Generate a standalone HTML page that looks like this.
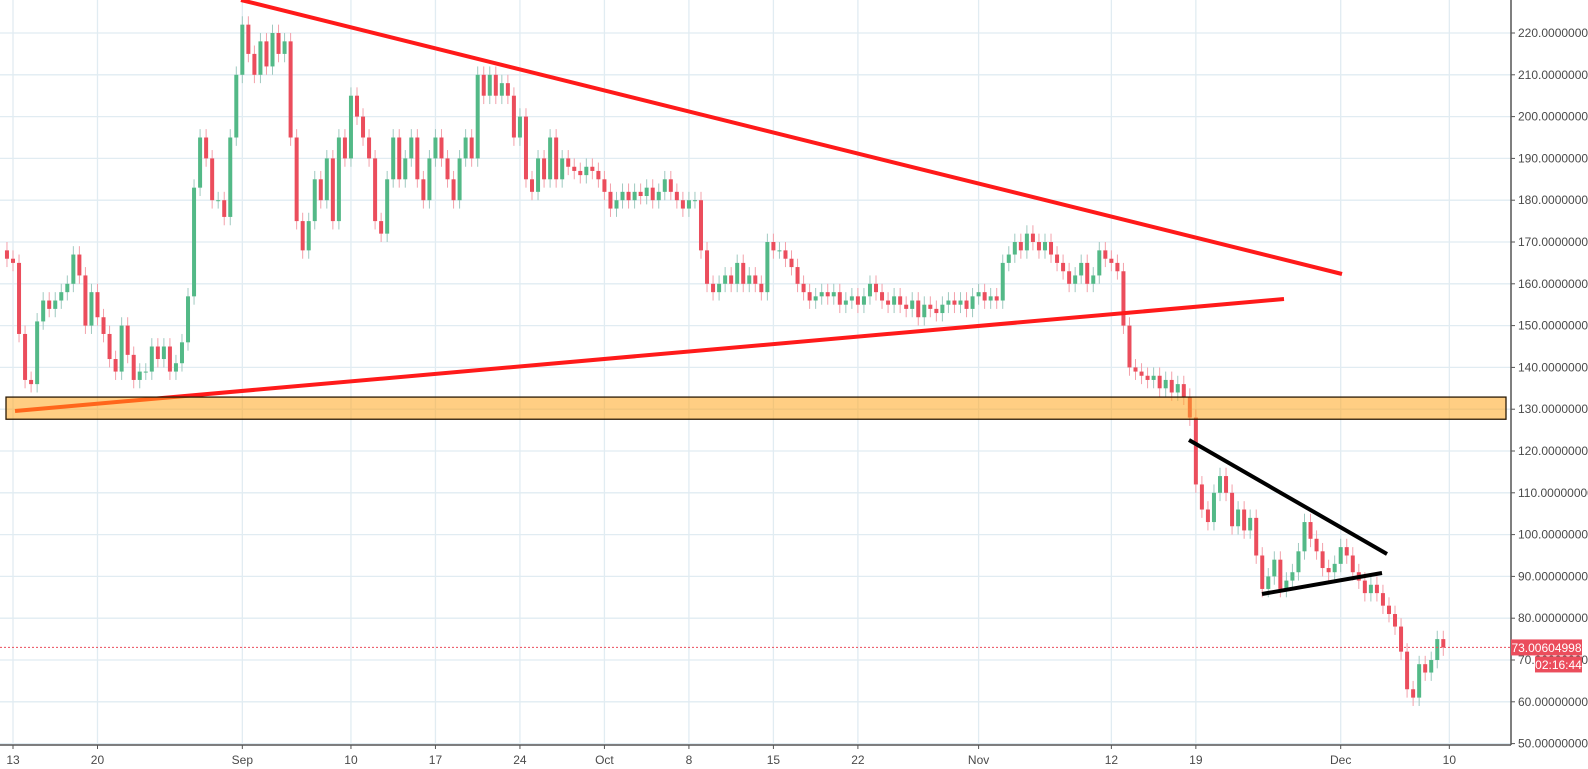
<!DOCTYPE html>
<html><head><meta charset="utf-8"><style>
html,body{margin:0;padding:0;background:#fff;width:1588px;height:769px;overflow:hidden}
svg{display:block;font-family:"Liberation Sans",sans-serif}
</style></head><body>
<svg id="chart" width="1588" height="769" xmlns="http://www.w3.org/2000/svg">
<g id="grid"></g>
<g id="candles"></g>
<g id="drawings"></g>
<g id="axes"></g>
</svg>
<script>
const days=[-1,-0.5,0,0.5,1,1.5,2,2.5,3,3.5,4,4.5,5,5.5,6,6.5,7,7.5,8,8.5,9,9.5,10,10.5,11,11.5,12,12.5,13,13.5,14,14.5,15,15.5,16,16.5,17,17.5,18,18.5,19,19.5,20,20.5,21,21.5,22,22.5,23,23.5,24,24.5,25,25.5,26,26.5,27,27.5,28,28.5,29,29.5,30,30.5,31,31.5,32,32.5,33,33.5,34,34.5,35,35.5,36,36.5,37,37.5,38,38.5,39,39.5,40,40.5,41,41.5,42,42.5,43,43.5,44,44.5,45,45.5,46,46.5,47,47.5,48,48.5,49,49.5,50,50.5,51,51.5,52,52.5,53,53.5,54,54.5,55,55.5,56,56.5,57,57.5,58,58.5,59,59.5,60,60.5,61,61.5,62,62.5,63,63.5,64,64.5,65,65.5,66,66.5,67,67.5,68,68.5,69,69.5,70,70.5,71,71.5,72,72.5,73,73.5,74,74.5,75,75.5,76,76.5,77,77.5,78,78.5,79,79.5,80,80.5,81,81.5,82,82.5,83,83.5,84,84.5,85,85.5,86,86.5,87,87.5,88,88.5,89,89.5,90,90.5,91,91.5,92,92.5,93,93.5,94,94.5,95,95.5,96,96.5,97,97.5,98,98.5,99,99.5,100,100.5,101,101.5,102,102.5,103,103.5,104,104.5,105,105.5,106,106.5,107,107.5,108,108.5,109,109.5,110,110.5,111,111.5,112,112.5,113,113.5,114,114.5,115,115.5,116,116.5,117,117.5,118,118.5,119];
const closes=[168,166,165,148,137,136,151,156,154,156,158,160,167,162,150,158,152,148,142,139,150,143,137,139,139,145,142,145,139,141,146,157,183,195,190,180,180,176,195,210,222,215,210,218,212,220,215,218,195,175,168,175,185,180,190,175,195,190,205,200,195,190,175,172,185,195,185,190,195,185,180,190,195,190,185,180,190,195,190,210,205,210,205,208,205,195,200,185,182,190,185,195,185,190,188,187,186,188,187,185,182,178,180,182,180,182,181,183,180,182,185,182,180,178,180,180,168,160,158,160,162,160,165,160,162,160,158,170,168,168,166,164,160,158,156,157,158,157,158,155,156,157,155,157,160,158,156,155,157,155,154,156,152,155,154,153,155,156,155,156,154,157,158,156,157,156,165,167,170,168,172,170,168,170,167,165,163,160,162,165,160,162,168,166,165,163,150,140,139,138,137,138,135,137,134,136,133,128,112,106,103,110,114,110,102,106,101,104,95,87,90,94,87,89,91,96,103,99,96,92,91,93,97,95,91,89,86,88,86,83,81,78,72,63,61,69,67,70,75,73];
const priceTicks=[50,60,70,80,90,100,110,120,130,140,150,160,170,180,190,200,210,220];
const dateTicks=[0,7,19,28,35,42,49,56,63,70,80,91,98,110,119];
const dateLabels=["13","20","Sep","10","17","24","Oct","8","15","22","Nov","12","19","Dec","10"];
const lastPrice=73.00604998;
const NS="http://www.w3.org/2000/svg";
const X=d=>13+12.07*d;
const Y=p=>33+(220-p)*4.18;
const R=1511,B=745;
function mk(tag,attrs,parent){const e=document.createElementNS(NS,tag);for(const k in attrs)e.setAttribute(k,attrs[k]);parent.appendChild(e);return e;}
const grid=document.getElementById('grid'),cg=document.getElementById('candles'),dg=document.getElementById('drawings'),ax=document.getElementById('axes');
priceTicks.forEach(p=>{const l=mk('line',{x1:0,x2:R,y1:Y(p),y2:Y(p),stroke:'#e1ecf2','stroke-width':1.3},grid);

});
dateTicks.forEach(d=>{const l=mk('line',{x1:X(d),x2:X(d),y1:0,y2:B,stroke:'#e1ecf2','stroke-width':1.3},grid);

});
for(let i=1;i<closes.length;i++){
 const o=closes[i-1],c=closes[i],x=X(days[i]);
 const up=c>=o,col=up?'#53b987':'#eb4d5c',wc=up?'#9fc9c0':'#f3a0aa';
 const w=mk('line',{x1:x,x2:x,y1:Y(Math.max(o,c)+2),y2:Y(Math.min(o,c)-2),stroke:wc,'stroke-width':1},cg);
 
 
 const b=mk('rect',{x:x-2,y:Y(Math.max(o,c)),width:4,height:Math.max(1,Math.abs(Y(o)-Y(c))),fill:col},cg);
 
 
}
let e;
e=mk('line',{x1:241,y1:0,x2:1342,y2:274,stroke:'#ff1a1a','stroke-width':4},dg);


e=mk('line',{x1:15,y1:411,x2:1284,y2:299,stroke:'#ff1a1a','stroke-width':4},dg);


e=mk('rect',{x:6,y:Y(132.9),width:1500,height:Y(127.6)-Y(132.9),fill:'rgba(255,165,30,0.55)',stroke:'#2a1a05','stroke-width':1.3},dg);


e=mk('line',{x1:1189,y1:440,x2:1387,y2:554,stroke:'#000','stroke-width':4},dg);


e=mk('line',{x1:1262,y1:594,x2:1382,y2:573,stroke:'#000','stroke-width':4},dg);


e=mk('line',{x1:0,x2:R,y1:Y(lastPrice),y2:Y(lastPrice),stroke:'#eb4d5c','stroke-width':1,'stroke-dasharray':'2,2'},dg);


e=mk('rect',{x:R,y:0,width:77,height:769,fill:'#fff'},ax);


e=mk('rect',{x:0,y:B,width:1588,height:24,fill:'#fff'},ax);


e=mk('line',{x1:R,x2:R,y1:0,y2:B,stroke:'#555','stroke-width':1.5},ax);


e=mk('line',{x1:0,x2:R,y1:B,y2:B,stroke:'#555','stroke-width':1.5},ax);


priceTicks.forEach(p=>{
 const t=mk('line',{x1:R,x2:R+4,y1:Y(p),y2:Y(p),stroke:'#555'},ax);
 
 
 const tx=mk('text',{x:R+7,y:Y(p)+4,'font-size':12,fill:'#4a4a4a'},ax);
 tx.textContent=p.toFixed(8);
 
 
});
dateTicks.forEach((d,i)=>{
 const t=mk('line',{x1:X(d),x2:X(d),y1:B,y2:B+4,stroke:'#555'},ax);
 
 
 const tx=mk('text',{x:X(d),y:B+19,'font-size':12,fill:'#4a4a4a','text-anchor':'middle'},ax);
 tx.textContent=dateLabels[i];
 
 
});
const ly=Y(lastPrice);
e=mk('rect',{x:R,y:ly-8,width:71,height:16,fill:'#eb4d5c'},ax);


e=mk('text',{x:R+35.5,y:ly+4.5,'font-size':12,fill:'#fff','text-anchor':'middle'},ax);
e.textContent=lastPrice.toFixed(8);


e=mk('rect',{x:1535,y:ly+9,width:47,height:16,fill:'#eb4d5c'},ax);


e=mk('text',{x:1558.5,y:ly+21.5,'font-size':12,fill:'#fff','text-anchor':'middle'},ax);
e.textContent='02:16:44';


</script>
</body></html>
